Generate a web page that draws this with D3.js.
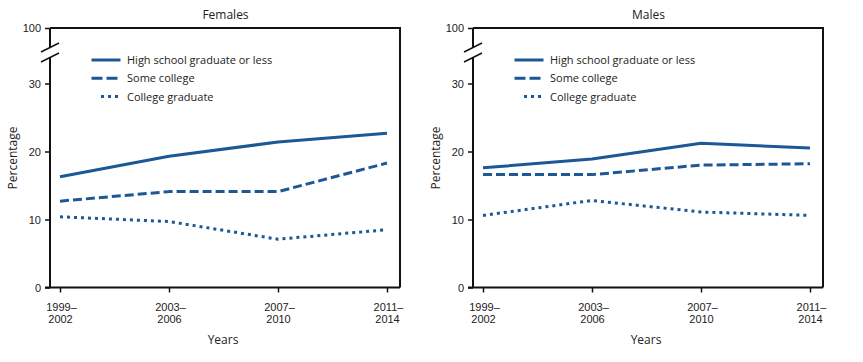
<!DOCTYPE html>
<html>
<head>
<meta charset="utf-8">
<script src="https://cdn.jsdelivr.net/npm/d3@7"></script>
<style>
  body { margin: 0; background: #fff; }
  svg { font-family: "Open Sans", "DejaVu Sans", sans-serif; }
</style>
</head>
<body>
<svg id="chart" width="863" height="362"></svg>
<script>
const periods = ["1999–2002", "2003–2006", "2007–2010", "2011–2014"];
const seriesNames = ["High school graduate or less", "Some college", "College graduate"];
const yTicks = [0, 10, 20, 30, 100];

const femalesHS = [16.3, 19.3, 21.4, 22.7];
const femalesSome = [12.7, 14.1, 14.1, 18.3];
const femalesGrad = [10.4, 9.7, 7.1, 8.5];

const malesHS = [17.6, 18.9, 21.2, 20.5];
const malesSome = [16.6, 16.6, 18.0, 18.2];
const malesGrad = [10.6, 12.8, 11.1, 10.6];

const panels = [
  { title: "Females", left: 50, series: [femalesHS, femalesSome, femalesGrad] },
  { title: "Males", left: 473, series: [malesHS, malesSome, malesGrad] }
];

const blue = "#1c5796";
const dashes = [null, "9,4", "3,4"];
const svg = d3.select("#chart");

const panelW = 350, plotTop = 28, plotBottom = 287.5;

// piecewise y scale: 0-30 linear, then a break up to 100
const y = d3.scaleLinear().domain([0, 30, 100]).range([plotBottom, 83.5, plotTop]);

panels.forEach(p => {
  const g = svg.append("g").attr("transform", `translate(${p.left},0)`);
  const x = d3.scalePoint().domain(periods).range([10, panelW - 13]);

  // frame (top + right)
  g.append("path")
    .attr("d", `M0,${plotTop}H${panelW}V${plotBottom}`)
    .attr("fill", "none").attr("stroke", "#111").attr("stroke-width", 2);

  // x axis
  const xa = g.append("g").attr("transform", `translate(0,${plotBottom})`)
    .call(d3.axisBottom(x).tickSize(5).tickFormat(""));
  xa.select(".domain").attr("d", `M-5,0H${panelW}`).attr("stroke", "#111").attr("stroke-width", 2);
  xa.selectAll(".tick line").attr("stroke", "#111").attr("stroke-width", 1.5);
  xa.selectAll(".tick").each(function(d) {
    const parts = d.split("–");
    const t = d3.select(this).append("text")
      .attr("fill", "#222").attr("font-size", 11).attr("text-anchor", "middle");
    t.append("tspan").attr("x", 1).attr("y", 23).text(parts[0] + "–");
    t.append("tspan").attr("x", 0).attr("y", 35).text(parts[1]);
  });

  // y axis with break
  const ya = g.append("g")
    .call(d3.axisLeft(y).tickValues(yTicks).tickSize(5).tickPadding(4));
  ya.select(".domain").attr("d", `M0,${plotBottom}V57M0,48V${plotTop}`)
    .attr("stroke", "#111").attr("stroke-width", 2);
  ya.selectAll(".tick line").attr("stroke", "#111").attr("stroke-width", 1.5);
  ya.selectAll(".tick text").attr("font-size", 11).attr("fill", "#222");
  [0, 10].forEach(off => {
    g.append("line")
      .attr("x1", -9).attr("y1", 52 + off).attr("x2", 9).attr("y2", 43 + off)
      .attr("stroke", "#111").attr("stroke-width", 1.5);
  });

  // lines
  const line = d3.line()
    .x((d, i) => x(periods[i]))
    .y(d => y(d));
  p.series.forEach((s, k) => {
    g.append("path").datum(s)
      .attr("d", line)
      .attr("fill", "none").attr("stroke", blue).attr("stroke-width", 3)
      .attr("stroke-linejoin", "round")
      .attr("stroke-dasharray", dashes[k]);
  });

  // legend
  seriesNames.forEach((name, k) => {
    const ly = 60 + k * 18.3;
    g.append("line")
      .attr("x1", k === 2 ? 51 : 41.5).attr("x2", 70.5)
      .attr("y1", ly).attr("y2", ly)
      .attr("stroke", blue).attr("stroke-width", 3)
      .attr("stroke-dasharray", k === 1 ? "11,4" : dashes[k]);
    g.append("text").attr("x", 77).attr("y", ly + 4)
      .attr("font-size", 11).attr("fill", "#222").text(name);
  });

  // titles
  g.append("text").attr("x", 175.5).attr("y", 19)
    .attr("text-anchor", "middle").attr("font-size", 12).attr("fill", "#222").text(p.title);
  g.append("text").attr("x", 173).attr("y", 344)
    .attr("text-anchor", "middle").attr("font-size", 12).attr("fill", "#222").text("Years");
  g.append("text")
    .attr("transform", `translate(-33,158) rotate(-90)`)
    .attr("text-anchor", "middle").attr("font-size", 12).attr("fill", "#222").text("Percentage");
});
</script>
</body>
</html>
